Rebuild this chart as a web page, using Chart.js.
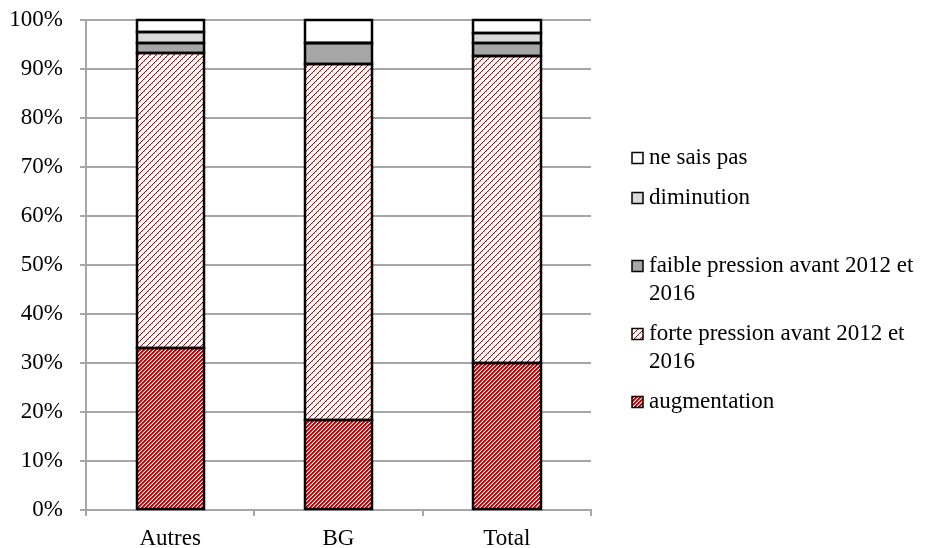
<!DOCTYPE html>
<html>
<head>
<meta charset="utf-8">
<script src="https://cdn.jsdelivr.net/npm/chart.js@4/dist/chart.umd.min.js"></script>
<style>
  html, body { margin: 0; padding: 0; background: #ffffff; }
  #wrap { width: 927px; height: 548px; }
</style>
</head>
<body>
<div id="wrap"><canvas id="chart" width="927" height="548"></canvas></div>
<script>
// Categories and series (percent of respondents)
const categories = ['Autres', 'BG', 'Total'];
const augmentation = [33.1, 18.4, 30.0];
const fortePression = [60.2, 72.6, 62.7];
const faiblePression = [2.1, 4.4, 2.7];
const diminution = [2.2, 0, 1.9];
const neSaisPas = [2.4, 4.6, 2.7];

const labelAugmentation = 'augmentation';
const labelForte = ['forte pression avant 2012 et', '2016'];
const labelFaible = ['faible pression avant 2012 et', '2016'];
const labelDiminution = 'diminution';
const labelNsp = 'ne sais pas';

const yTicks = [0, 10, 20, 30, 40, 50, 60, 70, 80, 90, 100];

const FONT = '"Liberation Serif", "Times New Roman", serif';
const FONT_SIZE = 23;
const RED = '#cc0000';

// Pixel-built hatch tiles
function makePattern(size, painter) {
  const c = document.createElement('canvas');
  c.width = size; c.height = size;
  const g = c.getContext('2d');
  g.fillStyle = '#ffffff';
  g.fillRect(0, 0, size, size);
  for (let x = 0; x < size; x++) {
    for (let y = 0; y < size; y++) {
      const col = painter(x, y);
      if (col) { g.fillStyle = col; g.fillRect(x, y, 1, 1); }
    }
  }
  return g.createPattern(c, 'repeat');
}
const ctx0 = document.getElementById('chart').getContext('2d');
// dense "/" stripes
const hatchDense = makePattern(4, (x, y) => {
  const k = (x + y) % 4;
  if (k === 0 || k === 1) return RED;
  if (k === 2) return '#e06060';
  return null;
});
// thin dotted "/" lines
const hatchLight = makePattern(6, (x, y) => {
  const k = (x + y) % 6;
  if (k === 0) return RED;
  if (k === 1 && x % 2 === 0) return '#eea0a0';
  return null;
});

const datasets = [
  { label: labelAugmentation, data: augmentation, backgroundColor: hatchDense },
  { label: labelForte, data: fortePression, backgroundColor: hatchLight },
  { label: labelFaible, data: faiblePression, backgroundColor: '#a6a6a6' },
  { label: labelDiminution, data: diminution, backgroundColor: '#d9d9d9' },
  { label: labelNsp, data: neSaisPas, backgroundColor: '#ffffff' }
].map(d => Object.assign(d, {
  borderWidth: 0,
  categoryPercentage: 1,
  barPercentage: 0.4
}));

// Black outline centred on each segment's edges
const segmentOutline = {
  id: 'segmentOutline',
  afterDatasetsDraw(chart) {
    const ctx = chart.ctx;
    ctx.save();
    ctx.strokeStyle = '#000000';
    ctx.lineWidth = 2.5;
    chart.data.datasets.forEach((ds, i) => {
      chart.getDatasetMeta(i).data.forEach(el => {
        const p = el.getProps(['x', 'y', 'base', 'width'], true);
        const left = Math.round(p.x - p.width / 2);
        const right = Math.round(p.x + p.width / 2);
        const top = Math.round(Math.min(p.y, p.base));
        const bottom = Math.round(Math.max(p.y, p.base));
        ctx.strokeRect(left, top, right - left, bottom - top);
      });
    });
    ctx.restore();
  }
};

// Legend drawn at the right, entries in reverse stacking order
const sideLegend = {
  id: 'sideLegend',
  afterDraw(chart) {
    const ctx = chart.ctx;
    const sets = chart.data.datasets.slice().reverse();
    const boxX = 632, textX = 649, box = 11, lineH = 28, gap = 12;
    let y = 158;
    ctx.save();
    ctx.font = FONT_SIZE + 'px ' + FONT;
    ctx.textBaseline = 'middle';
    ctx.textAlign = 'left';
    sets.forEach((ds, i) => {
      const lines = Array.isArray(ds.label) ? ds.label : [ds.label];
      ctx.fillStyle = ds.backgroundColor;
      ctx.fillRect(boxX, y - box / 2, box, box);
      ctx.lineWidth = 1.5;
      ctx.strokeStyle = '#000000';
      ctx.strokeRect(boxX, y - box / 2, box, box);
      ctx.fillStyle = '#000000';
      lines.forEach((t, j) => ctx.fillText(t, textX, y + j * lineH));
      const next = sets[i + 1];
      if (next) {
        const nl = Array.isArray(next.label) ? next.label.length : 1;
        y += Math.max(lines.length, nl) * lineH + gap;
      }
    });
    ctx.restore();
  }
};

new Chart(ctx0, {
  type: 'bar',
  data: { labels: categories, datasets },
  plugins: [segmentOutline, sideLegend],
  options: {
    responsive: false,
    animation: false,
    layout: { padding: { top: 20, right: 336, bottom: 0, left: 0 } },
    plugins: { legend: { display: false }, tooltip: { enabled: false } },
    scales: {
      x: {
        stacked: true,
        offset: true,
        grid: { display: true, offset: true, drawOnChartArea: false, tickLength: 6, color: '#a6a6a6', lineWidth: 2 },
        border: { color: '#a6a6a6', width: 2 },
        ticks: { color: '#000000', font: { family: FONT, size: FONT_SIZE }, padding: 9, maxRotation: 0 },
        afterFit(s) { s.height = 38; }
      },
      y: {
        stacked: true,
        min: 0, max: 100,
        afterBuildTicks(s) { s.ticks = yTicks.map(v => ({ value: v })); },
        grid: { color: '#a6a6a6', lineWidth: 2, tickLength: 6 },
        border: { color: '#a6a6a6', width: 2 },
        ticks: { color: '#000000', font: { family: FONT, size: FONT_SIZE }, padding: 17, callback: v => v + '%' },
        afterFit(s) { s.width = 86; s.paddingTop = 0; s.paddingBottom = 0; }
      }
    }
  }
});
</script>
</body>
</html>
